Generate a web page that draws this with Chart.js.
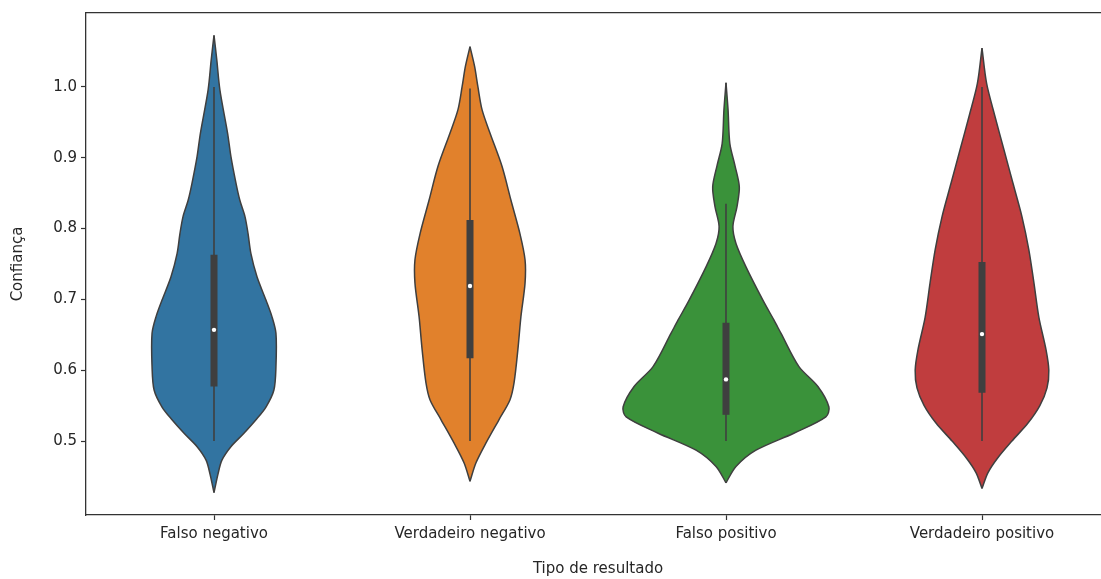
<!DOCTYPE html>
<html>
<head>
<meta charset="utf-8">
<script src="https://cdn.jsdelivr.net/npm/chart.js@4.4.1/dist/chart.umd.min.js"></script>
<style>
html,body{margin:0;padding:0;background:#ffffff;overflow:hidden;}
#wrap{width:1114px;height:579px;position:relative;}
</style>
</head>
<body>
<div id="wrap"><canvas id="c"></canvas></div>
<script>
// ---- data ----
const categories = ['Falso negativo', 'Verdadeiro negativo', 'Falso positivo', 'Verdadeiro positivo'];
const yTicks = [0.5, 0.6, 0.7, 0.8, 0.9, 1.0];
const palette = ['#3274a1', '#e1812c', '#3a923a', '#c03d3e'];

// density outline of each violin: Confiança levels and half-width (in category units)
const fnLevels = [0.427, 0.454, 0.473, 0.492, 0.511, 0.530, 0.548, 0.572, 0.605, 0.652, 0.676, 0.699, 0.732, 0.765, 0.793, 0.817, 0.840, 0.864, 0.902, 0.935, 0.996, 1.038, 1.073];
const fnWidths = [0, 0.016, 0.031, 0.066, 0.117, 0.164, 0.203, 0.234, 0.242, 0.242, 0.226, 0.203, 0.168, 0.144, 0.133, 0.121, 0.101, 0.086, 0.066, 0.053, 0.023, 0.011, 0];

const vnLevels = [0.443, 0.469, 0.497, 0.530, 0.558, 0.582, 0.629, 0.676, 0.723, 0.756, 0.793, 0.840, 0.888, 0.935, 0.968, 1.000, 1.029, 1.057];
const vnWidths = [0, 0.023, 0.062, 0.113, 0.156, 0.172, 0.187, 0.199, 0.215, 0.215, 0.195, 0.160, 0.125, 0.078, 0.047, 0.031, 0.018, 0];

const fpLevels = [0.441, 0.464, 0.487, 0.511, 0.534, 0.548, 0.577, 0.605, 0.652, 0.671, 0.699, 0.746, 0.779, 0.803, 0.831, 0.859, 0.889, 0.920, 0.968, 1.006];
const fpWidths = [0, 0.039, 0.117, 0.265, 0.390, 0.402, 0.359, 0.285, 0.215, 0.187, 0.144, 0.078, 0.039, 0.027, 0.043, 0.052, 0.035, 0.015, 0.008, 0];

const vpLevels = [0.433, 0.455, 0.475, 0.500, 0.525, 0.550, 0.575, 0.600, 0.629, 0.675, 0.723, 0.770, 0.817, 0.864, 0.911, 0.958, 1.005, 1.055];
const vpWidths = [0, 0.023, 0.059, 0.117, 0.179, 0.226, 0.254, 0.261, 0.250, 0.222, 0.203, 0.183, 0.156, 0.121, 0.086, 0.051, 0.018, 0];

// inner box statistics
const q1 = [0.577, 0.617, 0.537, 0.568];
const medians = [0.657, 0.719, 0.587, 0.651];
const q3 = [0.763, 0.812, 0.667, 0.753];
const whiskerLow = [0.5, 0.5, 0.5, 0.5];
const whiskerHigh = [1.0, 0.998, 0.835, 1.0];

// ---- build chart ----
const levelSets = [fnLevels, vnLevels, fpLevels, vpLevels];
const widthSets = [fnWidths, vnWidths, fpWidths, vpWidths];
const edgeColor = '#3f3f3f';
const textColor = '#262626';
const fontFamily = "'DejaVu Sans', 'Liberation Sans', sans-serif";

const datasets = [];
categories.forEach((cat, i) => {
  const lv = levelSets[i], wd = widthSets[i];
  datasets.push({
    label: cat + ' L',
    data: lv.map((v, k) => ({x: i - wd[k], y: v})),
    borderColor: edgeColor, borderWidth: 1.5, backgroundColor: palette[i],
    pointRadius: 0, fill: false, tension: 0.3, order: 3
  });
  datasets.push({
    label: cat + ' R',
    data: lv.map((v, k) => ({x: i + wd[k], y: v})),
    borderColor: edgeColor, borderWidth: 1.5, backgroundColor: palette[i],
    pointRadius: 0, fill: '-1', tension: 0.3, order: 3
  });
  datasets.push({
    label: cat + ' whisker',
    data: [{x: i, y: whiskerLow[i]}, {x: i, y: whiskerHigh[i]}],
    borderColor: edgeColor, borderWidth: 1.6, pointRadius: 0, fill: false, order: 2
  });
  datasets.push({
    label: cat + ' box',
    data: [{x: i, y: q1[i]}, {x: i, y: q3[i]}],
    borderColor: edgeColor, borderWidth: 7, pointRadius: 0, fill: false, order: 1
  });
});
datasets.push({
  label: 'medians',
  data: medians.map((m, i) => ({x: i, y: m})),
  showLine: false, pointRadius: 2.2, pointBackgroundColor: '#ffffff',
  pointBorderWidth: 0, borderWidth: 0, order: 0
});

const tickFont = {family: fontFamily, size: 15};

new Chart(document.getElementById('c'), {
  type: 'line',
  data: {datasets},
  options: {
    indexAxis: 'y',
    responsive: true,
    maintainAspectRatio: false,
    animation: false,
    layout: {padding: {top: 13, right: 2, bottom: 0, left: 0}},
    plugins: {legend: {display: false}, tooltip: {enabled: false}},
    scales: {
      x: {
        type: 'linear', position: 'bottom', min: -0.5, max: 3.5,
        afterBuildTicks: s => { s.ticks = categories.map((c, i) => ({value: i})); },
        ticks: {callback: v => categories[v], font: tickFont, color: textColor, padding: 5, autoSkip: false, maxRotation: 0},
        grid: {display: true, drawOnChartArea: false, drawTicks: true, tickLength: 5, tickColor: '#333', tickWidth: 1.2},
        border: {display: true, color: '#333', width: 1.3},
        title: {display: true, text: 'Tipo de resultado', font: tickFont, color: textColor, padding: {top: 0, bottom: 1}},
        afterFit: s => { s.height = 64; }
      },
      x2: {
        type: 'linear', position: 'top', min: -0.5, max: 3.5,
        ticks: {display: false},
        grid: {display: false, drawOnChartArea: false, drawTicks: false},
        border: {display: true, color: '#333', width: 1.3},
        afterFit: s => { s.height = 0; }
      },
      y: {
        type: 'linear', position: 'left', min: 0.3955, max: 1.1045,
        afterBuildTicks: s => { s.ticks = yTicks.map(v => ({value: v})); },
        ticks: {callback: v => v.toFixed(1), font: tickFont, color: textColor, padding: 4},
        grid: {display: true, drawOnChartArea: false, drawTicks: true, tickLength: 5, tickColor: '#333', tickWidth: 1.2},
        border: {display: true, color: '#333', width: 1.3},
        title: {display: true, text: 'Confiança', font: tickFont, color: textColor, padding: {top: 9, bottom: 0}},
        afterFit: s => { s.width = 86; }
      }
    }
  }
});
</script>
</body>
</html>
